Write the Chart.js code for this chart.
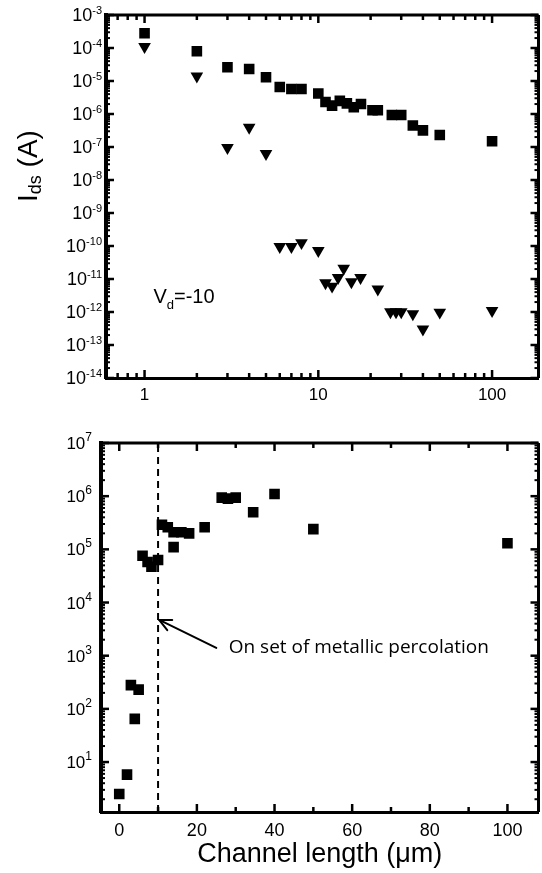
<!DOCTYPE html>
<html>
<head>
<meta charset="utf-8">
<title>Ids and Ion/Ioff vs channel length</title>
<script src="https://cdn.jsdelivr.net/npm/chart.js@4.4.3/dist/chart.umd.min.js"></script>
<style>
  html, body { margin: 0; padding: 0; background: #fff; overflow: hidden; }
  #wrap { position: relative; width: 542px; height: 873px; overflow: hidden; }
  canvas { position: absolute; left: 0; }
  #topchart { top: 0; }
  #botchart { top: 425px; }
</style>
</head>
<body>
<div id="wrap">
  <canvas id="topchart" width="546" height="412"></canvas>
  <canvas id="botchart" width="546" height="448"></canvas>
</div>
<script>
// top panel: drain current vs channel length (um), on state = squares, off state = triangles
const onLen = [1, 2, 3, 4, 5, 6, 7, 8, 10, 11, 12, 13.3, 14.6, 16, 17.6, 20.5, 22, 26.5, 30, 35, 40, 50, 100];
const onCur = [2.8e-4, 8e-5, 2.6e-5, 2.3e-5, 1.3e-5, 6.6e-6, 5.7e-6, 5.7e-6, 4.2e-6, 2.3e-6, 1.8e-6, 2.5e-6,
               2.1e-6, 1.6e-6, 2e-6, 1.3e-6, 1.3e-6, 9.3e-7, 9.3e-7, 4.5e-7, 3.2e-7, 2.3e-7, 1.5e-7];
const offLen = [1, 2, 3, 4, 5, 6, 7, 8, 10, 11, 12, 13, 14, 15.5, 17.5, 22, 26, 28, 30, 35, 40, 50, 100];
const offCur = [1.1e-4, 1.4e-5, 9.5e-8, 3.9e-7, 6.3e-8, 9.5e-11, 9.5e-11, 1.25e-10, 7.2e-11, 7.6e-12, 6e-12, 1.1e-11,
                2.1e-11, 8.2e-12, 1.1e-11, 4.9e-12, 1e-12, 1e-12, 1e-12, 8.8e-13, 3e-13, 9.8e-13, 1.1e-12];

// bottom panel: on/off ratio vs channel length
const ratioLen = [0, 2, 3, 4, 5, 6, 7.3, 8.3, 10, 11, 12.5, 14, 14, 16, 18, 22, 26.4, 28, 30, 34.5, 40, 50, 100];
const ratio = [2.5, 5.8, 280, 65, 230, 7.6e4, 5.8e4, 4.7e4, 6.3e4, 2.9e5, 2.6e5, 2.1e5, 1.1e5, 2.1e5, 2e5,
               2.6e5, 9.4e5, 9e5, 9.4e5, 5e5, 1.1e6, 2.4e5, 1.3e5];
const percolationLen = 10;

// tick labels
const lenTicksLog = [1, 10, 100];
const idsTicks = [1e-14, 1e-13, 1e-12, 1e-11, 1e-10, 1e-9, 1e-8, 1e-7, 1e-6, 1e-5, 1e-4, 1e-3];
const lenTicksLin = [0, 20, 40, 60, 80, 100];
const ratioTicks = [1e1, 1e2, 1e3, 1e4, 1e5, 1e6, 1e7];

const FONT = "'Liberation Sans', Arial, sans-serif";

// minor tick positions for the inward tick marks
function logMinors(lo, hi) {
  const out = [];
  for (let e = lo; e < hi; e++) for (let m = 2; m <= 9; m++) out.push(m * Math.pow(10, e));
  return out;
}

function richText(ctx, parts, x, y, rot, align) {
  ctx.save();
  ctx.translate(x, y);
  ctx.rotate(rot || 0);
  let w = 0;
  parts.forEach(p => { ctx.font = p.size + 'px ' + (p.family || FONT); p.w = ctx.measureText(p.t).width; w += p.w; });
  let cx = align === 'left' ? 0 : -w / 2;
  ctx.fillStyle = '#000';
  ctx.textBaseline = 'alphabetic';
  parts.forEach(p => {
    ctx.font = p.size + 'px ' + (p.family || FONT);
    ctx.fillText(p.t, cx, p.dy || 0);
    cx += p.w;
  });
  ctx.restore();
}

const frame = {
  id: 'frame',
  afterDatasetsDraw(chart, args, o) {
    const { ctx, chartArea: a } = chart;
    const xs = chart.scales.x, ys = chart.scales.y;
    const seg = (x1, y1, x2, y2, w) => {
      ctx.lineWidth = w; ctx.beginPath(); ctx.moveTo(x1, y1); ctx.lineTo(x2, y2); ctx.stroke();
    };
    ctx.save();
    ctx.strokeStyle = '#000';
    seg(a.left - 2, a.top, a.right, a.top, 3);
    seg(a.right, a.top, a.right, a.bottom, 3);
    const inX = v => v >= xs.min && v <= xs.max;
    const inY = v => v >= ys.min && v <= ys.max;
    o.xMajor.filter(inX).forEach(v => {
      const p = xs.getPixelForValue(v);
      seg(p, a.bottom, p, a.bottom - 8, 2.5); seg(p, a.top, p, a.top + 8, 2.5);
    });
    o.xMinor.filter(inX).forEach(v => {
      const p = xs.getPixelForValue(v);
      seg(p, a.bottom, p, a.bottom - 5, 2.5); seg(p, a.top, p, a.top + 5, 2.5);
    });
    o.yMajor.filter(inY).forEach(v => {
      const p = ys.getPixelForValue(v);
      seg(a.left, p, a.left + 8, p, 2.5); seg(a.right, p, a.right - 8, p, 2.5);
    });
    o.yMinor.filter(inY).forEach(v => {
      const p = ys.getPixelForValue(v);
      seg(a.left, p, a.left + 4, p, 2); seg(a.right, p, a.right - 4, p, 2);
    });
    ctx.restore();
  }
};

// y tick labels of the form 10^n, built from the scale's own ticks
const powLabels = {
  id: 'powLabels',
  afterDraw(chart, args, o) {
    const ctx = chart.ctx, ys = chart.scales.y;
    const right = chart.chartArea.left - o.pad;
    ctx.save();
    ctx.fillStyle = '#000';
    ctx.textBaseline = 'alphabetic';
    ys.ticks.forEach(t => {
      const p = ys.getPixelForValue(t.value);
      const e = String(Math.round(Math.log10(t.value)));
      ctx.font = o.sup + 'px ' + FONT;
      const we = ctx.measureText(e).width;
      ctx.textAlign = 'left';
      ctx.fillText(e, right - we, p + o.supDy);
      ctx.font = o.size + 'px ' + FONT;
      ctx.textAlign = 'right';
      ctx.fillText('10', right - we, p + o.size * 0.36);
    });
    ctx.restore();
  }
};

const labels = {
  id: 'labels',
  afterDraw(chart, args, o) {
    const ctx = chart.ctx;
    const xs = chart.scales.x, ys = chart.scales.y;
    (o.items || []).forEach(it => {
      const x = it.px !== undefined ? it.px : xs.getPixelForValue(it.x);
      const y = it.py !== undefined ? it.py : ys.getPixelForValue(it.y);
      richText(ctx, it.parts, x, y, it.rot, it.align);
    });
    if (o.arrow) {
      const x1 = xs.getPixelForValue(o.arrow.from[0]), y1 = ys.getPixelForValue(o.arrow.from[1]);
      const x2 = xs.getPixelForValue(o.arrow.to[0]), y2 = ys.getPixelForValue(o.arrow.to[1]);
      const ang = Math.atan2(y2 - y1, x2 - x1);
      ctx.save();
      ctx.strokeStyle = '#000';
      ctx.lineWidth = 2;
      ctx.lineCap = 'round';
      ctx.beginPath(); ctx.moveTo(x1, y1); ctx.lineTo(x2, y2); ctx.stroke();
      ctx.beginPath();
      ctx.moveTo(x2 - 13 * Math.cos(ang - 0.45), y2 - 13 * Math.sin(ang - 0.45));
      ctx.lineTo(x2, y2);
      ctx.lineTo(x2 - 13 * Math.cos(ang + 0.45), y2 - 13 * Math.sin(ang + 0.45));
      ctx.stroke();
      ctx.restore();
    }
  }
};

const pts = (xs, ys) => xs.map((x, i) => ({ x: x, y: ys[i] }));

const tickFont = size => ({ family: FONT, size: size });

new Chart(document.getElementById('topchart'), {
  type: 'scatter',
  data: {
    datasets: [
      { label: 'Ion', data: pts(onLen, onCur), pointStyle: 'rect', pointRadius: 7.5,
        backgroundColor: '#000', borderColor: '#000', borderWidth: 0 },
      { label: 'Ioff', data: pts(offLen, offCur), pointStyle: 'triangle', rotation: 180, pointRadius: 7.3,
        backgroundColor: '#000', borderColor: '#000', borderWidth: 0 }
    ]
  },
  options: {
    animation: false,
    responsive: false,
    layout: { padding: { top: 15, right: 3, left: 0, bottom: 0 } },
    plugins: {
      legend: { display: false },
      tooltip: { enabled: false },
      frame: {
        xMajor: lenTicksLog, xMinor: [0.7, 0.8, 0.9].concat(logMinors(0, 2)),
        yMajor: idsTicks, yMinor: logMinors(-14, -3)
      },
      powLabels: { size: 18, sup: 11, supDy: -1.5, pad: 4 },
      labels: {
        items: [
          { px: 37, py: 166, rot: -Math.PI / 2,
            parts: [{ t: 'I', size: 28 }, { t: 'ds', size: 18, dy: 4 }, { t: ' (A)', size: 28 }] },
          { x: 1.125, y: 1.9e-12, align: 'left',
            parts: [{ t: 'V', size: 20 }, { t: 'd', size: 13, dy: 6 }, { t: '=-10', size: 20 }] }
        ]
      }
    },
    scales: {
      x: {
        type: 'logarithmic', min: 0.61, max: 185,
        afterBuildTicks: s => { s.ticks = lenTicksLog.map(v => ({ value: v })); },
        afterFit: s => { s.height = 34; },
        grid: { display: false, drawTicks: false },
        border: { display: true, color: '#000', width: 3 },
        ticks: { color: '#000', font: tickFont(17), padding: 7, autoSkip: false, maxRotation: 0,
                 callback: v => String(v) }
      },
      y: {
        type: 'logarithmic', min: 1e-14, max: 1e-3,
        afterBuildTicks: s => { s.ticks = idsTicks.map(v => ({ value: v })); },
        afterFit: s => { s.width = 106; },
        grid: { display: false, drawTicks: false },
        border: { display: true, color: '#000', width: 4 },
        ticks: { display: false }
      }
    }
  },
  plugins: [frame, powLabels, labels]
});

const ratioMin = 1.15, ratioMax = 1e7;

new Chart(document.getElementById('botchart'), {
  type: 'scatter',
  data: {
    datasets: [
      { label: 'Ion/Ioff', data: pts(ratioLen, ratio), pointStyle: 'rect', pointRadius: 7.5,
        backgroundColor: '#000', borderColor: '#000', borderWidth: 0 },
      { label: 'percolation', data: [{ x: percolationLen, y: ratioMin }, { x: percolationLen, y: ratioMax }],
        showLine: true, pointRadius: 0, borderColor: '#000', borderWidth: 2, borderDash: [7, 5] }
    ]
  },
  options: {
    animation: false,
    responsive: false,
    layout: { padding: { top: 18, right: 3, left: 0, bottom: 0 } },
    plugins: {
      legend: { display: false },
      tooltip: { enabled: false },
      frame: {
        xMajor: lenTicksLin, xMinor: [10, 30, 50, 70, 90],
        yMajor: ratioTicks, yMinor: logMinors(0, 7)
      },
      powLabels: { size: 17, sup: 12, supDy: -2, pad: 9 },
      labels: {
        items: [
          { px: 37, py: 610, rot: -Math.PI / 2,
            parts: [{ t: 'I', size: 28 }, { t: 'on', size: 18, dy: 4 }, { t: '/', size: 28 },
                    { t: 'I', size: 28 }, { t: 'off', size: 18, dy: 4 }] },
          { x: 28.2, y: 1.12e3, align: 'left',
            parts: [{ t: 'On set of metallic percolation', size: 19, family: "'Open Sans', sans-serif" }] }
        ],
        arrow: { from: [25, 1.4e3], to: [10.3, 4.7e3] }
      }
    },
    scales: {
      x: {
        type: 'linear', min: -4.7, max: 108,
        afterBuildTicks: s => { s.ticks = lenTicksLin.map(v => ({ value: v })); },
        afterFit: s => { s.height = 61; },
        grid: { display: false, drawTicks: false },
        border: { display: true, color: '#000', width: 3 },
        ticks: { color: '#000', font: tickFont(18), padding: 8, autoSkip: false, maxRotation: 0 },
        title: { display: true, text: 'Channel length (\u03BCm)', color: '#000',
                 font: { family: FONT, size: 27 }, padding: { top: 0, bottom: 2 } }
      },
      y: {
        type: 'logarithmic', min: ratioMin, max: ratioMax,
        afterBuildTicks: s => { s.ticks = ratioTicks.map(v => ({ value: v })); },
        afterFit: s => { s.width = 101; },
        grid: { display: false, drawTicks: false },
        border: { display: true, color: '#000', width: 4 },
        ticks: { display: false }
      }
    }
  },
  plugins: [frame, powLabels, labels]
});
</script>
</body>
</html>
